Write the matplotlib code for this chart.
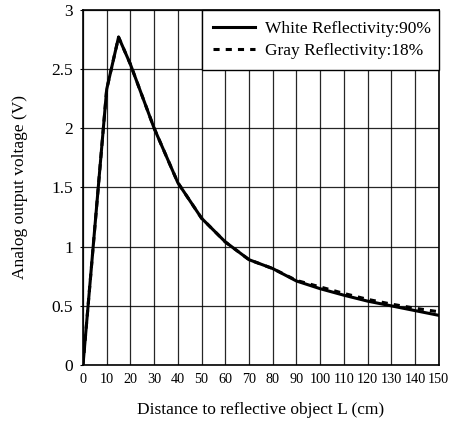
#!/usr/bin/env python3
"""Analog output voltage vs distance to reflective object."""
import matplotlib
matplotlib.use('Agg')
import matplotlib.pyplot as plt

distance_cm = [0, 10, 15, 20, 30, 40, 50, 60, 70, 80, 90, 100, 110, 120, 130, 140, 150]
white_90 = [0, 2.33, 2.77, 2.54, 2.0, 1.54, 1.24, 1.04, 0.89, 0.815, 0.71,
            0.645, 0.59, 0.54, 0.50, 0.46, 0.42]
gray_18 = [0, 2.33, 2.77, 2.54, 2.0, 1.54, 1.24, 1.04, 0.89, 0.815, 0.715,
           0.66, 0.605, 0.555, 0.515, 0.48, 0.45]
x_ticks = list(range(0, 151, 10))
y_ticks = [0, 0.5, 1, 1.5, 2, 2.5, 3]
y_tick_labels = ['0', '0.5', '1', '1.5', '2', '2.5', '3']

plt.rcParams['font.family'] = ['Liberation Serif', 'DejaVu Serif']

fig = plt.figure(figsize=(4.51, 4.29), dpi=100)
ax = fig.add_axes([0.184, 0.149, 0.789, 0.828])

ax.plot(distance_cm, white_90, color='black', linewidth=2.2,
        label='White Reflectivity:90%', zorder=3)
ax.plot(distance_cm, gray_18, color='black', linewidth=2.2, linestyle=(0, (2, 2)),
        label='Gray Reflectivity:18%', zorder=3)

ax.set_xlim(0, 150)
ax.set_ylim(0, 3)
ax.set_xticks(x_ticks)
ax.set_yticks(y_ticks)
ax.set_yticklabels(y_tick_labels)
ax.grid(True, color='black', linewidth=0.9, alpha=0.85)
ax.tick_params(axis='x', length=0, pad=6, labelsize=10.2)
ax.tick_params(axis='y', length=2, pad=5, labelsize=12.5)
for s in ax.spines.values():
    s.set_linewidth(1.2)

ax.set_xlabel('Distance to reflective object L (cm)', fontsize=12.5, labelpad=11)
ax.set_ylabel('Analog output voltage (V)', fontsize=12.5, labelpad=17)

leg = ax.legend(loc='upper left', bbox_to_anchor=(50 / 150, 2.5 / 3, 100 / 150, 0.5 / 3),
                mode='expand', borderaxespad=0, fancybox=False, framealpha=1,
                edgecolor='black', fontsize=12.5, handlelength=2.4, handletextpad=0.6,
                labelspacing=0.3, borderpad=0.65)
leg.get_frame().set_linewidth(1.0)

plt.savefig('out.png', dpi=100)
plt.close()
